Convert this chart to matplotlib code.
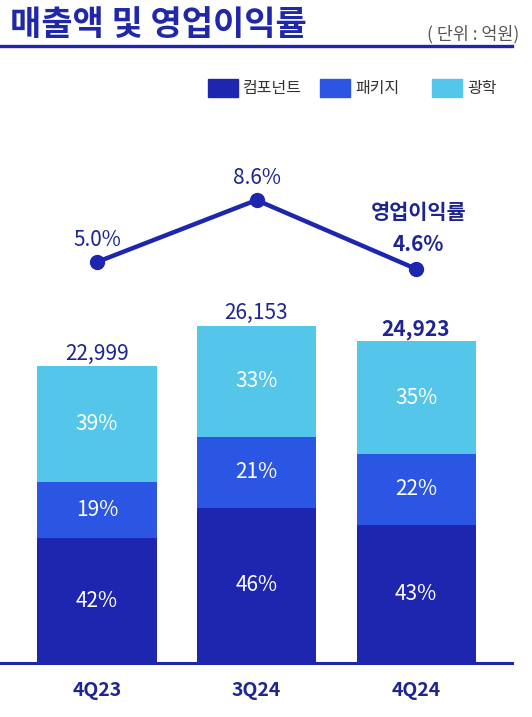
import matplotlib
matplotlib.use("Agg")
import matplotlib.pyplot as plt
from matplotlib.lines import Line2D
from matplotlib.patches import Rectangle
import numpy as np

plt.rcParams['font.family'] = ['Noto Sans CJK KR', 'DejaVu Sans']

# ---- data ----
quarters = ["4Q23", "3Q24", "4Q24"]
totals = [22999, 26153, 24923]
component_pct = [42, 46, 43]
package_pct = [19, 21, 22]
optical_pct = [39, 33, 35]
op_margin = [5.0, 8.6, 4.6]
series_names = ["컴포넌트", "패키지", "광학"]
title = "매출액 및 영업이익률"
unit_label = "( 단위 : 억원)"
margin_label = "영업이익률"

C_COMP = "#1e26b0"
C_PACK = "#2b56e3"
C_OPT = "#54c6ea"
C_TEXT = "#1e2590"
C_TITLE = "#1f28a8"

W, H = 532, 717
fig = plt.figure(figsize=(W / 100, H / 100), dpi=100)

def fx(px):
    return px / W

def fy(py):
    return 1 - py / H

# main axes: x from 0 to 512 px, y from 663 (baseline) to 100 px
ax_left, ax_right, ax_bottom, ax_top = 0, 512, 663, 100
ax = fig.add_axes([fx(ax_left), fy(ax_bottom), fx(ax_right) - fx(ax_left), (ax_bottom - ax_top) / H])

x = np.arange(len(quarters))
unit_px = 159.5
x0_px = 97
ax.set_xlim(-x0_px / unit_px, (ax_right - x0_px) / unit_px)
px_per_val = 0.0129
ax.set_ylim(0, (ax_bottom - ax_top) / px_per_val)

totals_a = np.array(totals, dtype=float)
comp = totals_a * np.array(component_pct) / 100
pack = totals_a * np.array(package_pct) / 100
opt = totals_a * np.array(optical_pct) / 100

bw = 119 / unit_px
ax.bar(x, comp, width=bw, color=C_COMP, zorder=2)
ax.bar(x, pack, width=bw, bottom=comp, color=C_PACK, zorder=2)
ax.bar(x, opt, width=bw, bottom=comp + pack, color=C_OPT, zorder=2)

for i in range(len(x)):
    ax.text(x[i], comp[i] / 2, f"{component_pct[i]}%", ha='center', va='center',
            color='white', fontsize=15)
    ax.text(x[i], comp[i] + pack[i] / 2, f"{package_pct[i]}%", ha='center', va='center',
            color='white', fontsize=15)
    ax.text(x[i], comp[i] + pack[i] + opt[i] / 2, f"{optical_pct[i]}%", ha='center', va='center',
            color='white', fontsize=15)
    last = (i == len(x) - 1)
    ax.annotate(f"{totals[i]:,}", (x[i], totals[i]), xytext=(0, 1), textcoords='offset points',
                ha='center', va='bottom', color=C_TEXT, fontsize=15,
                fontweight='bold' if last else 'normal')

for s in ['top', 'right', 'left']:
    ax.spines[s].set_visible(False)
ax.spines['bottom'].set_color(C_COMP)
ax.spines['bottom'].set_linewidth(2.2)
ax.set_yticks([])
ax.set_xticks(x)
ax.set_xticklabels(quarters, fontsize=14, fontweight='bold', color=C_TEXT)
ax.tick_params(axis='x', length=0, pad=13)

# line axis
ax2 = ax.twinx()
px_per_pct = 17.2
zero_px = 348  # pixel row of 0%
bottom_v = -(ax_bottom - zero_px) / px_per_pct
top_v = ((ax_bottom - ax_top) - (ax_bottom - zero_px)) / px_per_pct
ax2.set_ylim(bottom_v, top_v)
ax2.plot(x, op_margin, color=C_COMP, linewidth=3.2, marker='o', markersize=10, zorder=3)
ax2.axis('off')
for i in range(len(x) - 1):
    ax2.annotate(f"{op_margin[i]:.1f}%", (x[i], op_margin[i]), xytext=(0, 8),
                 textcoords='offset points', ha='center', va='bottom', color=C_TEXT, fontsize=15)
ax2.annotate(f"{op_margin[-1]:.1f}%", (x[-1], op_margin[-1]), xytext=(2, 10),
             textcoords='offset points', ha='center', va='bottom', color=C_TEXT,
             fontsize=15, fontweight='bold')
ax2.annotate(margin_label, (x[-1], op_margin[-1]), xytext=(2, 33),
             textcoords='offset points', ha='center', va='bottom', color=C_TEXT,
             fontsize=15, fontweight='bold')

# title and underline
fig.text(fx(10), fy(25), title, fontsize=24.5, fontweight='bold', color=C_TITLE,
         ha='left', va='center')
fig.text(fx(519), fy(34), unit_label, fontsize=12.5, color='#555555', ha='right', va='center')
fig.add_artist(Line2D([0, fx(512)], [fy(46), fy(46)], color=C_COMP, linewidth=2.4))

# legend
colors = [C_COMP, C_PACK, C_OPT]
leg_x = [208, 320, 432]
for name, c, lx in zip(series_names, colors, leg_x):
    fig.add_artist(Rectangle((fx(lx), fy(97)), 30 / W, 18 / H, color=c, transform=fig.transFigure))
    fig.text(fx(lx + 35), fy(89), name, fontsize=11.5, color='#333333', ha='left', va='center')

fig.savefig("out.png", dpi=100)
